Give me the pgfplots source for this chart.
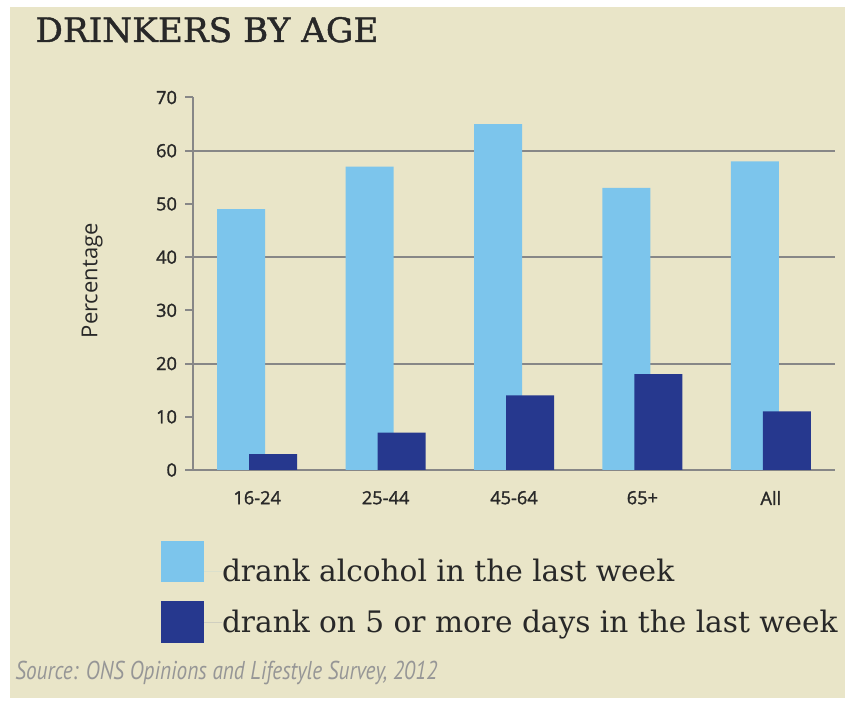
\documentclass[border=0pt]{standalone}
\usepackage{pgfplots}
\pgfplotsset{compat=1.18}
\usepackage{fontspec}
\usepackage{graphicx}
\setmainfont{DejaVu Serif}
\newfontfamily\titlefont{DejaVu Serif}[FakeBold=1.2]
\newfontfamily\tickfont{Open Sans}[FakeBold=1.4]
\newfontfamily\labfont{Open Sans}
\newfontfamily\srcfont{PT Sans}
\definecolor{bg}{RGB}{233,229,200}
\definecolor{lightb}{RGB}{124,197,236}
\definecolor{darkb}{RGB}{38,56,142}
\definecolor{axgray}{RGB}{135,135,135}
\definecolor{txt}{RGB}{40,40,40}
\definecolor{srcgray}{RGB}{150,150,150}
\begin{document}
\begin{tikzpicture}
\useasboundingbox (0,0) rectangle (422.5pt,352pt);
\fill[white] (0,0) rectangle (422.5pt,352pt);
\fill[bg] (5pt,3pt) rectangle (422.5pt,348.5pt);
\node[anchor=base west, inner sep=0pt, text=txt] at (17.5pt,331pt)
  {\resizebox{171.5pt}{\height}{\titlefont\fontsize{16.8pt}{19pt}\selectfont DRINKERS BY AGE}};
\node[anchor=base west, inner sep=0pt, text=srcgray] at (7.5pt,12pt)
  {\resizebox{211pt}{\height}{\srcfont\itshape\fontsize{12.9pt}{14pt}\selectfont Source: ONS Opinions and Lifestyle Survey, 2012}};
\begin{axis}[
  at={(96.5pt,117pt)}, anchor=south west,
  scale only axis, width=321pt, height=186.25pt,
  xmin=-0.5, xmax=4.5, ymin=0, ymax=70,
  axis lines*=left,
  axis line style={draw=axgray, line width=1pt},
  xtick={0,1,2,3,4},
  xticklabels={16-24,25-44,45-64,65+,All},
  ytick={0,10,...,70},
  extra y ticks={20,40,60},
  extra y tick labels={},
  extra y tick style={grid=major, major tick length=4pt},
  grid style={draw=axgray, line width=1pt},
  tick align=outside,
  major tick length=4pt,
  ytick style={draw=axgray, line width=1pt},
  xtick style={draw=none},
  tick label style={font=\tickfont\fontsize{9.1pt}{10pt}\selectfont, text=txt},
  /pgf/number format/assume math mode=true,
  yticklabel style={xshift=-0.5pt},
  xticklabel style={yshift=-3pt},
  ylabel={Percentage},
  ylabel style={font=\labfont\fontsize{11pt}{12pt}\selectfont, text=txt,
    at={(axis description cs:-0.157,0.508)}, anchor=center},
  legend style={at={(axis description cs:-0.0498,-0.1906)}, anchor=north west,
    draw=none, fill=none, inner sep=0pt, outer sep=0pt, row sep=8pt,
    font=\fontsize{14.8pt}{17pt}\selectfont, text=txt,
    nodes={inner sep=0pt}},
  legend cell align=left,
]
\addplot[ybar, bar width=24pt, bar shift=-8pt, fill=lightb, draw=none,
  legend image code/.code={\fill[lightb] (0pt,-5pt) rectangle (21.5pt,15.5pt); \path (21.5pt,0pt) -- (30.5pt,0pt);}]
  coordinates {(0,49) (1,57) (2,65) (3,53) (4,58)};
\addplot[ybar, bar width=24pt, bar shift=8pt, fill=darkb, draw=none,
  legend image code/.code={\fill[darkb] (0pt,-10pt) rectangle (21.5pt,11pt); \path (21.5pt,0pt) -- (30.5pt,0pt);}]
  coordinates {(0,3) (1,7) (2,14) (3,18) (4,11)};
\legend{drank alcohol in the last week, drank on 5 or more days in the last week}
\end{axis}
\end{tikzpicture}
\end{document}
